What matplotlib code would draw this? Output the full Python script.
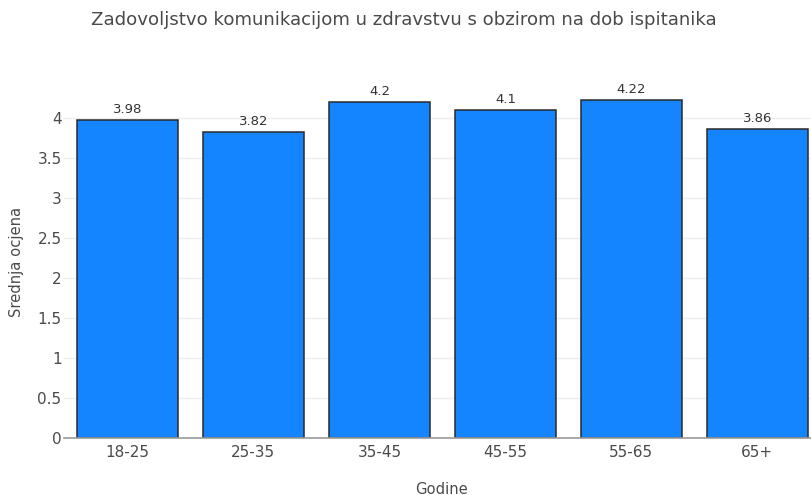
import matplotlib
matplotlib.use('Agg')
import matplotlib.pyplot as plt
import numpy as np

# ── data ───────────────────────────────────────────────────────────────────
categories = ['18-25', '25-35', '35-45', '45-55', '55-65', '65+']
values = [3.98, 3.82, 4.2, 4.1, 4.22, 3.86]
yticks = [0, 0.5, 1, 1.5, 2, 2.5, 3, 3.5, 4]
ytick_labels = ['0', '0.5', '1', '1.5', '2', '2.5', '3', '3.5', '4']

TEXT = '#4a4a4a'
BAR = '#1484ff'

W, H = 811, 495
fig = plt.figure(figsize=(W / 100, H / 100), dpi=100)
plt.rcParams['font.family'] = 'DejaVu Sans'

# plot area in pixels (right edge runs past the figure, as in the reference)
left, right, bottom, top = 64.4, 820.4, 438, 62
ax = fig.add_axes([left / W, 1 - bottom / H, (right - left) / W, (bottom - top) / H])

x = np.arange(len(categories))
ax.bar(x, values, width=0.8, color=BAR, edgecolor='#2a2a2a', linewidth=1.1, zorder=3)
for xi, v in zip(x, values):
    ax.text(xi, v + 0.05, f'{v:g}', ha='center', va='bottom', fontsize=9.5, color='#333333', zorder=4)

ax.set_xlim(-0.5, len(categories) - 0.5)
ax.set_ylim(0, 4.7)
ax.set_yticks(yticks)
ax.set_yticklabels(ytick_labels)
ax.set_xticks(x)
ax.set_xticklabels(categories)
ax.tick_params(axis='both', length=0, labelsize=11, colors=TEXT)
ax.tick_params(axis='y', pad=2)
ax.tick_params(axis='x', pad=5)
ax.grid(axis='y', color='#eeeeee', linewidth=1, zorder=0)
for s in ['top', 'right', 'left']:
    ax.spines[s].set_visible(False)
ax.spines['bottom'].set_color('#9a9a9a')
ax.spines['bottom'].set_linewidth(1.2)
ax.spines['bottom'].set_zorder(5)

fig.text(404 / W, 1 - 20 / H, 'Zadovoljstvo komunikacijom u zdravstvu s obzirom na dob ispitanika',
         ha='center', va='center', fontsize=13.1, color=TEXT)
fig.text(17 / W, 1 - 262 / H, 'Srednja ocjena', rotation=90, ha='center', va='center',
         fontsize=10.6, color=TEXT)
fig.text(441 / W, 1 - 489 / H, 'Godine', ha='center', va='center', fontsize=10.6, color=TEXT)

fig.savefig('out.png', dpi=100, facecolor='white')
